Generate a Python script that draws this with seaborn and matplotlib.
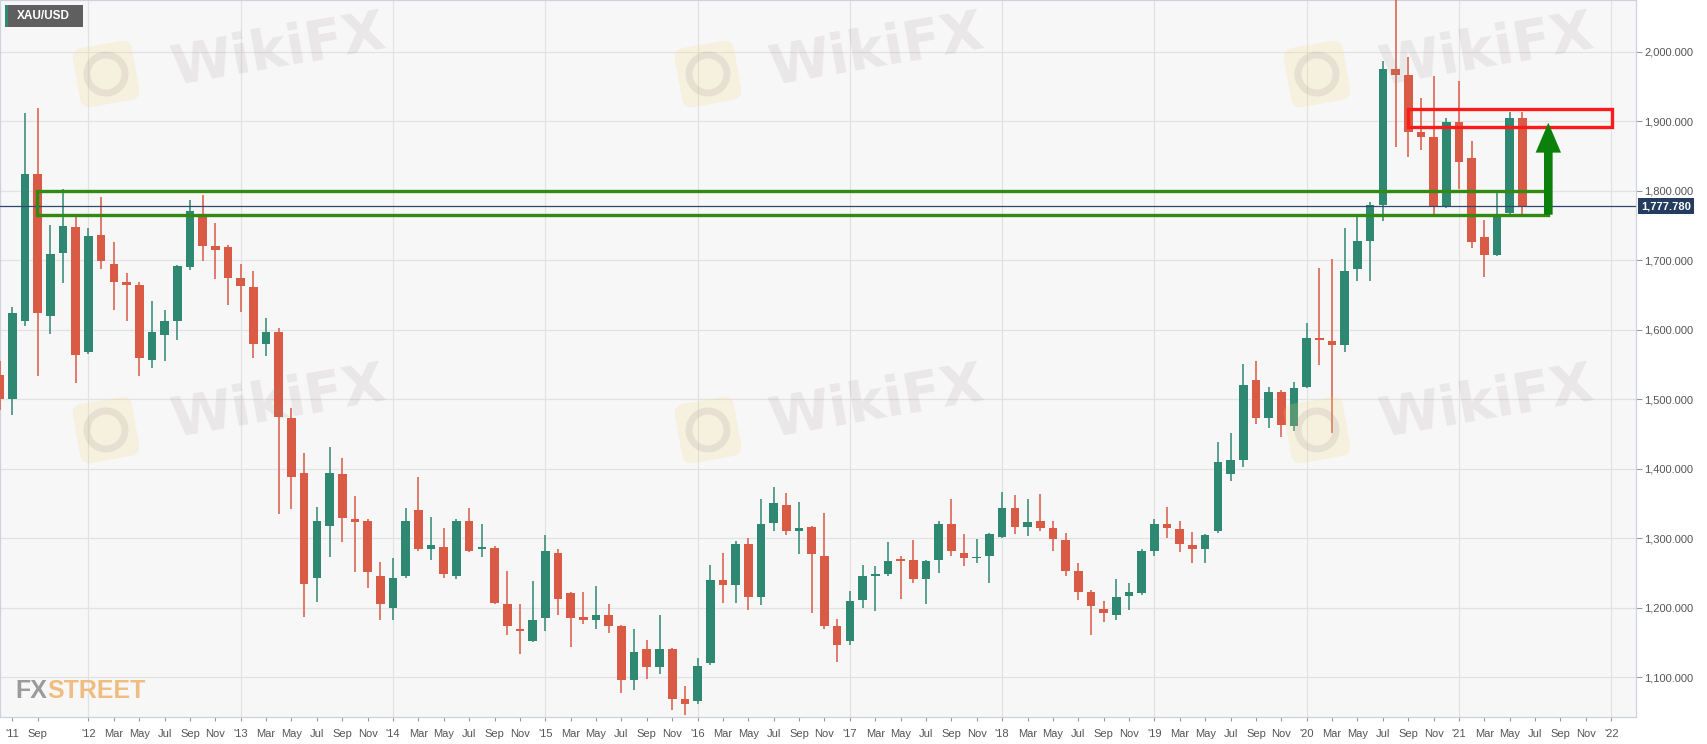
import matplotlib
matplotlib.use("Agg")
import matplotlib.pyplot as plt
import matplotlib.transforms as mtransforms
from matplotlib.patches import Rectangle, FancyArrow, FancyBboxPatch, Circle
import numpy as np
import pandas as pd
import seaborn as sns

# monthly XAU/USD candles, Jun 2011 - Jun 2021
months = pd.period_range("2011-06", "2021-06", freq="M")
opens = [1535, 1501, 1612, 1824, 1620, 1710, 1748,
         1568, 1736, 1695, 1669, 1665, 1557, 1593, 1613, 1690, 1764, 1721, 1719,
         1674, 1661, 1580, 1596, 1473, 1394, 1243, 1318, 1392, 1327, 1325, 1245,
         1200, 1246, 1340, 1284, 1287, 1245, 1325, 1284, 1286, 1205, 1169, 1152,
         1185, 1279, 1221, 1187, 1183, 1190, 1173, 1096, 1141, 1115, 1140, 1068,
         1066, 1120, 1240, 1232, 1292, 1215, 1322, 1348, 1310, 1316, 1275, 1173,
         1152, 1211, 1246, 1248, 1268, 1268, 1241, 1269, 1320, 1279, 1271, 1275,
         1302, 1344, 1316, 1325, 1314, 1298, 1253, 1223, 1198, 1190, 1217, 1221,
         1282, 1320, 1313, 1290, 1284, 1310, 1393, 1412, 1528, 1473, 1511, 1462,
         1518, 1588, 1584, 1578, 1687, 1728, 1779, 1975, 1967, 1885, 1878, 1776,
         1899, 1847, 1733, 1707, 1768, 1905]
highs = [1555, 1632, 1912, 1919, 1751, 1803, 1762,
         1747, 1791, 1726, 1682, 1669, 1641, 1629, 1693, 1786, 1794, 1753, 1722,
         1695, 1684, 1617, 1602, 1487, 1422, 1345, 1431, 1415, 1361, 1327, 1266,
         1272, 1344, 1388, 1330, 1315, 1328, 1344, 1321, 1289, 1253, 1205, 1238,
         1305, 1284, 1223, 1223, 1231, 1205, 1175, 1170, 1154, 1190, 1142, 1088,
         1128, 1262, 1279, 1296, 1301, 1357, 1374, 1365, 1352, 1318, 1337, 1184,
         1224, 1262, 1260, 1294, 1275, 1297, 1269, 1325, 1357, 1306, 1299, 1308,
         1366, 1362, 1356, 1364, 1325, 1308, 1264, 1225, 1210, 1241, 1236, 1284,
         1327, 1345, 1325, 1309, 1306, 1439, 1452, 1550, 1555, 1518, 1513, 1525,
         1610, 1689, 1702, 1747, 1764, 1784, 1986, 2075, 1992, 1933, 1965, 1905,
         1958, 1871, 1758, 1798, 1913, 1913]
lows = [1485, 1478, 1606, 1533, 1594, 1667, 1523,
        1565, 1688, 1628, 1612, 1533, 1545, 1555, 1585, 1686, 1699, 1673, 1635,
        1625, 1559, 1562, 1335, 1342, 1187, 1208, 1273, 1295, 1251, 1229, 1182,
        1182, 1243, 1282, 1268, 1243, 1241, 1280, 1273, 1205, 1161, 1133, 1150,
        1167, 1190, 1144, 1176, 1170, 1163, 1077, 1082, 1098, 1105, 1053, 1045,
        1062, 1118, 1207, 1207, 1197, 1204, 1310, 1305, 1277, 1193, 1170, 1122,
        1147, 1199, 1195, 1245, 1212, 1236, 1205, 1250, 1275, 1260, 1264, 1236,
        1300, 1306, 1303, 1310, 1281, 1245, 1211, 1161, 1180, 1182, 1197, 1219,
        1275, 1301, 1280, 1265, 1265, 1308, 1383, 1402, 1465, 1458, 1446, 1454,
        1516, 1549, 1452, 1568, 1670, 1670, 1757, 1863, 1848, 1859, 1767, 1775,
        1803, 1717, 1676, 1706, 1766, 1764]
closes = [1501, 1624, 1824, 1624, 1709, 1749, 1564,
          1735, 1699, 1668, 1665, 1560, 1596, 1613, 1691, 1771, 1720, 1714, 1675,
          1663, 1580, 1596, 1475, 1388, 1234, 1325, 1394, 1329, 1323, 1251, 1205,
          1243, 1325, 1284, 1290, 1249, 1325, 1282, 1287, 1207, 1173, 1166, 1183,
          1282, 1212, 1185, 1183, 1189, 1173, 1096, 1137, 1115, 1141, 1068, 1061,
          1116, 1240, 1232, 1292, 1215, 1321, 1350, 1310, 1315, 1277, 1173, 1147,
          1209, 1246, 1248, 1267, 1267, 1241, 1267, 1320, 1282, 1271, 1273, 1306,
          1344, 1316, 1324, 1314, 1299, 1253, 1223, 1202, 1192, 1215, 1223, 1282,
          1320, 1314, 1292, 1284, 1304, 1409, 1412, 1520, 1473, 1511, 1463, 1516,
          1588, 1585, 1578, 1685, 1728, 1779, 1975, 1967, 1885, 1878, 1776, 1899,
          1842, 1726, 1707, 1766, 1905, 1778]

last_price = 1777.78
support_zone = (1765.5, 1800.0)      # green box
resistance_zone = (1892.0, 1917.0)   # red box
price_ticks = [1100, 1200, 1300, 1400, 1500, 1600, 1700, 1800, 1900, 2000]

GREEN = "#2f8872"
RED = "#d95a45"

sns.set_style("whitegrid")
plt.rcParams["font.family"] = ["Liberation Sans", "DejaVu Sans"]

W, H = 1707, 744
fig = plt.figure(figsize=(W / 100, H / 100), dpi=100, facecolor="white")
ax = fig.add_axes([0, 1 - 717.4 / H, 1636 / W, 717.4 / H])
ax.set_facecolor("#f7f7f8")

# month index, Jan 2012 = 0
x = np.array([(m.year - 2012) * 12 + m.month - 1 for m in months])
o = np.array(opens, float)
h = np.array(highs, float)
l = np.array(lows, float)
c = np.array(closes, float)
up = c >= o
cols = np.where(up, GREEN, RED)

ax.vlines(x, l, h, colors=cols, lw=1.1, zorder=3)
body_lo = np.minimum(o, c)
body_h = np.maximum(np.abs(c - o), 2.5)
ax.bar(x, body_h, bottom=body_lo, width=0.68, color=cols, lw=0, zorder=4)

# axes ranges and ticks
ax.set_xlim(-6.97, 121.95)
ax.set_ylim(1042.2, 2074.4)

tick_pos, tick_lab = [], []
for k in range(-6, 122, 2):
    if k == -2:
        continue
    yr, mo = 2012 + k // 12, k % 12 + 1
    tick_pos.append(k)
    if k == -6:
        tick_lab.append("'11")
    elif mo == 1:
        tick_lab.append("'" + str(yr)[2:])
    else:
        tick_lab.append(pd.Timestamp(yr, mo, 1).strftime("%b"))
ax.set_xticks(tick_pos)
ax.set_xticklabels(tick_lab)
ax.set_yticks(price_ticks)
ax.set_yticklabels([f"{v:,.3f}" for v in price_ticks])
ax.yaxis.tick_right()

ax.grid(False)
ax.grid(axis="y", color="#e2e2e4", lw=0.9, zorder=0)
for k in range(0, 122, 12):
    ax.axvline(k, color="#e2e2e4", lw=0.9, zorder=0)

ax.tick_params(axis="x", direction="out", length=3, width=0.8, color="#9a9a9a",
               labelsize=8, labelcolor="#555555", pad=5, bottom=True)
ax.tick_params(axis="y", direction="out", length=4, width=0.8, color="#9a9a9a",
               labelsize=8, labelcolor="#555555", pad=2, right=True, left=False)
for s in ax.spines.values():
    s.set_color("#cfd1dd")
    s.set_linewidth(0.9)

# last price line and tag
ax.axhline(last_price, color="#2c4a70", lw=0.9, zorder=5)
ax.text(1.003, last_price, f"{last_price:,.3f}", transform=ax.get_yaxis_transform(),
        ha="left", va="center", fontsize=8, fontweight="bold", color="white",
        clip_on=False, zorder=6,
        bbox=dict(boxstyle="square,pad=0.28", fc="#233c5f", ec="none"))

# annotations: support box, resistance box, arrow
ax.add_patch(Rectangle((-4.08, support_zone[0]), 115.04 + 4.08,
                       support_zone[1] - support_zone[0],
                       fill=False, ec="#338a10", lw=2.4, zorder=7))
ax.add_patch(Rectangle((103.96, resistance_zone[0]), 120.05 - 103.96,
                       resistance_zone[1] - resistance_zone[0],
                       fill=False, ec="#ff1a1a", lw=2.4, zorder=7))
ax.add_patch(FancyArrow(115.04, support_zone[0], 0, 1897.8 - support_zone[0],
                        width=0.68, head_width=2.0, head_length=43,
                        length_includes_head=True, color="#0b800b", lw=0, zorder=8))

# watermarks
def px(xp, yp):
    return xp / W, 1 - yp / H

for wx, wy in [(278, 51), (876, 51), (1486, 51), (278, 403), (876, 403), (1486, 403)]:
    fig.text(*px(wx, wy), "WikiFX", fontsize=40, fontweight="bold",
             family="DejaVu Sans", color="#9a8c8c", alpha=0.15, rotation=10,
             ha="center", va="center", zorder=20)
for ix, iy in [(106, 74), (708, 74), (1317, 74), (106, 430), (708, 430), (1317, 430)]:
    cy = H - iy
    rot = mtransforms.Affine2D().rotate_deg_around(ix, cy, 10)
    fig.patches.append(FancyBboxPatch((ix - 30, cy - 30), 60, 60,
                                      boxstyle="round,pad=0,rounding_size=10",
                                      fc="#f4d77f", ec="none", alpha=0.2,
                                      transform=rot, zorder=19))
    fig.patches.append(Circle((ix, cy), 19, fc="none", ec="#9a8c8c", lw=5,
                              alpha=0.16, transform=rot, zorder=19))

# FXSTREET logo
fx = fig.text(*px(15, 698), "FX", fontsize=18, fontweight="bold", color="#9b9b9b",
              ha="left", va="baseline", zorder=20)
fig.add_artist(plt.Annotation("STREET", xy=(1, 0), xycoords=fx, xytext=(0.5, 0),
                              textcoords="offset points", fontsize=18,
                              fontweight="bold", color="#f0bd80", ha="left",
                              va="bottom", zorder=20))

# symbol tag top left
fig.patches.append(Rectangle((5, H - 27), 78, 22, fc="#5f5f5f", ec="none",
                             transform=None, zorder=20))
fig.patches.append(Rectangle((5, H - 27), 2.5, 22, fc=GREEN, ec="none",
                             transform=None, zorder=21))
fig.text(*px(17, 16), "XAU/USD", fontsize=8.5, fontweight="bold", color="white",
         ha="left", va="center", zorder=22)

fig.savefig("out.png", dpi=100, facecolor="white")
